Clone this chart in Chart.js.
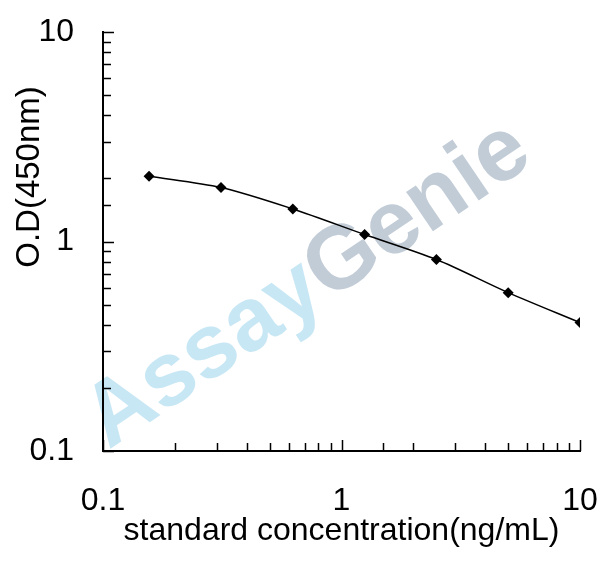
<!DOCTYPE html>
<html>
<head>
<meta charset="utf-8">
<script src="https://cdn.jsdelivr.net/npm/chart.js@4.4.1/dist/chart.umd.min.js"></script>
<style>
  html, body { margin: 0; padding: 0; background: #fff; }
  #curve { display: block; }
</style>
</head>
<body>
<canvas id="curve" width="608" height="564"></canvas>
<script>
// standard curve values
const concentration = [0.156, 0.3125, 0.625, 1.25, 2.5, 5, 10];
const od = [2.05, 1.81, 1.43, 1.08, 0.82, 0.57, 0.41];
const decadeLabels = ['0.1', '1', '10'];

const isDecade = (v) => Math.abs(Math.log10(v) - Math.round(Math.log10(v))) < 1e-6;

// watermark behind everything
const watermark = {
    id: 'watermark',
    beforeDraw(chart) {
        const ctx = chart.ctx;
        ctx.save();
        ctx.font = 'bold 90px "Liberation Sans", Arial, sans-serif';
        const w1 = ctx.measureText('Assay').width;
        const w2 = ctx.measureText('Genie').width;
        ctx.translate(322, 306);
        ctx.rotate(-34 * Math.PI / 180);
        ctx.textBaseline = 'alphabetic';
        ctx.textAlign = 'left';
        const start = -(w1 + w2) / 2;
        ctx.fillStyle = '#c8e7f5';
        ctx.fillText('Assay', start, 0);
        ctx.fillStyle = '#c2ccd7';
        ctx.fillText('Genie', start + w1, 0);
        ctx.restore();
    }
};

// tick marks pointing into the plot, longer at each decade
const innerTicks = {
    id: 'innerTicks',
    afterDraw(chart) {
        const ctx = chart.ctx;
        const xs = chart.scales.x;
        const ys = chart.scales.y;
        const area = chart.chartArea;
        ctx.save();
        ctx.strokeStyle = '#000';
        ctx.lineWidth = 1.5;
        ctx.beginPath();
        xs.ticks.forEach((t) => {
            const px = Math.round(xs.getPixelForValue(t.value)) + 0.5;
            const len = isDecade(t.value) ? 11 : 8;
            ctx.moveTo(px, area.bottom);
            ctx.lineTo(px, area.bottom - len);
        });
        ys.ticks.forEach((t) => {
            const py = Math.round(ys.getPixelForValue(t.value)) + 0.5;
            const len = isDecade(t.value) ? 11 : 8;
            ctx.moveTo(area.left, py);
            ctx.lineTo(area.left + len, py);
        });
        ctx.stroke();

        // y axis title, placed as in the original figure
        ctx.fillStyle = '#000';
        ctx.font = '33px "Liberation Sans", Arial, sans-serif';
        ctx.textAlign = 'center';
        ctx.textBaseline = 'middle';
        ctx.translate(30, 177);
        ctx.rotate(-Math.PI / 2);
        ctx.fillText('O.D(450nm)', 0, 0);
        ctx.restore();
    }
};

const tickLabel = (value) => {
    if (!isDecade(value)) return '';
    const i = Math.round(Math.log10(value)) + 1;
    return decadeLabels[i] || '';
};

new Chart(document.getElementById('curve'), {
    type: 'scatter',
    data: {
        datasets: [{
            data: concentration.map((c, i) => ({ x: c, y: od[i] })),
            showLine: true,
            borderColor: '#000',
            borderWidth: 1.5,
            tension: 0.3,
            pointStyle: 'rectRot',
            pointRadius: 5.5,
            pointBackgroundColor: '#000',
            pointBorderWidth: 0,
        }]
    },
    options: {
        responsive: false,
        animation: false,
        devicePixelRatio: 1,
        layout: { padding: { top: 32, right: 28, bottom: 0, left: 0 } },
        plugins: {
            legend: { display: false },
            tooltip: { enabled: false },
        },
        scales: {
            x: {
                type: 'logarithmic',
                min: 0.1,
                max: 10,
                grid: { display: false, drawTicks: false },
                border: { display: true, color: '#000', width: 2 },
                ticks: {
                    autoSkip: false,
                    maxRotation: 0,
                    padding: 31,
                    color: '#000',
                    font: { size: 32, family: '"Liberation Sans", Arial, sans-serif' },
                    callback: tickLabel,
                },
                title: {
                    display: true,
                    text: 'standard concentration(ng/mL)',
                    color: '#000',
                    font: { size: 32, family: '"Liberation Sans", Arial, sans-serif' },
                    padding: { top: 0, bottom: 14 },
                },
                afterFit(scale) {
                    scale.height = 113;
                    scale.paddingLeft = 0;
                    scale.paddingRight = 0;
                },
            },
            y: {
                type: 'logarithmic',
                min: 0.1,
                max: 10,
                grid: { display: false, drawTicks: false },
                border: { display: true, color: '#000', width: 2 },
                ticks: {
                    autoSkip: false,
                    padding: 29,
                    color: '#000',
                    font: { size: 32, family: '"Liberation Sans", Arial, sans-serif' },
                    callback: tickLabel,
                },
                afterFit(scale) {
                    scale.width = 103;
                    scale.paddingTop = 0;
                    scale.paddingBottom = 0;
                },
            }
        }
    },
    plugins: [watermark, innerTicks]
});
</script>
</body>
</html>
